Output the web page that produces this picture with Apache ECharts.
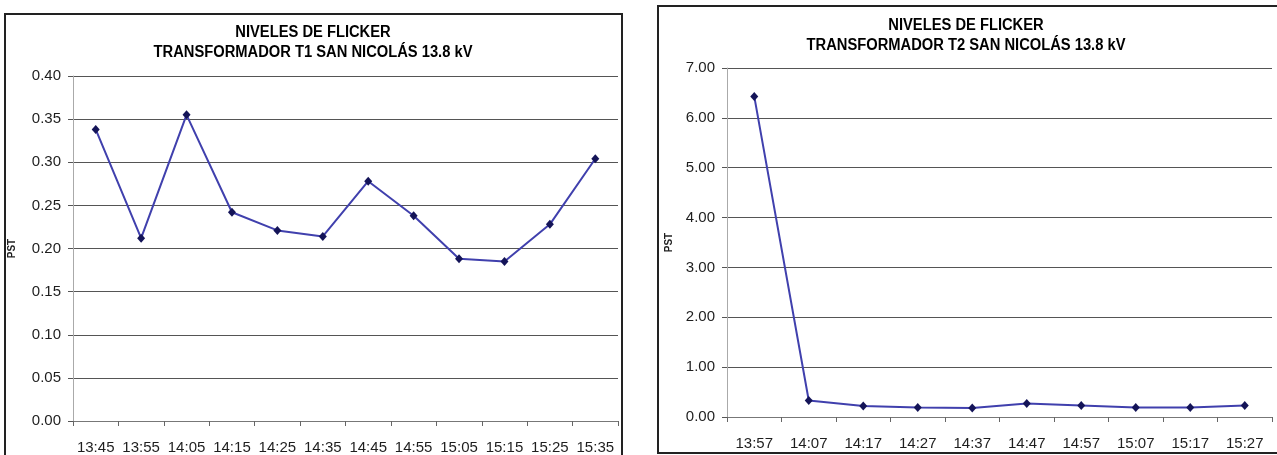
<!DOCTYPE html>
<html>
<head>
<meta charset="utf-8">
<script src="https://cdn.jsdelivr.net/npm/echarts@6/dist/echarts.min.js"></script>
<style>
  html, body { margin: 0; padding: 0; background: #fff; }
  #chart { width: 1277px; height: 455px; }
</style>
</head>
<body>
<div id="chart"></div>
<script>
// Flicker (Pst) readings, San Nicolás substation, 13.8 kV side
const timesT1 = ['13:45', '13:55', '14:05', '14:15', '14:25', '14:35', '14:45', '14:55', '15:05', '15:15', '15:25', '15:35'];
const pstT1 = [0.338, 0.212, 0.355, 0.242, 0.221, 0.214, 0.278, 0.238, 0.188, 0.185, 0.228, 0.304];

const timesT2 = ['13:57', '14:07', '14:17', '14:27', '14:37', '14:47', '14:57', '15:07', '15:17', '15:27'];
const pstT2 = [6.43, 0.33, 0.22, 0.19, 0.18, 0.27, 0.23, 0.19, 0.19, 0.23];

const titleT1 = ['NIVELES DE FLICKER', 'TRANSFORMADOR T1 SAN NICOLÁS 13.8 kV'];
const titleT2 = ['NIVELES DE FLICKER', 'TRANSFORMADOR T2 SAN NICOLÁS 13.8 kV'];
const axisName = 'PST';

const FONT = '"Liberation Sans Narrow", "Arial Narrow", "Liberation Sans", sans-serif';
const INK = '#1e1e1e';
const GRID_LINE = '#555';
const LINE_COLOR = '#4040ad';
const MARK_COLOR = '#141458';

function xAxisFor(idx, cats) {
  return {
    type: 'category', gridIndex: idx, data: cats, boundaryGap: true,
    axisLine: { show: true, lineStyle: { color: '#777', width: 1 } },
    axisTick: { show: true, length: 5, inside: false, lineStyle: { color: '#666' } },
    axisLabel: { color: INK, fontFamily: FONT, fontSize: 15, margin: 19, interval: 0 },
    splitLine: { show: false }
  };
}

function yAxisFor(idx, max, step, gap) {
  return {
    type: 'value', gridIndex: idx, min: 0, max: max, interval: step,
    name: axisName, nameLocation: 'middle', nameRotate: 90, nameGap: gap,
    nameTextStyle: { color: INK, fontFamily: FONT, fontSize: 10, fontWeight: 'bold' },
    axisLine: { show: true, lineStyle: { color: '#aaa', width: 1 } },
    axisTick: { show: true, length: 5, lineStyle: { color: GRID_LINE } },
    axisLabel: { color: INK, fontFamily: FONT, fontSize: 15, margin: 12,
                 formatter: v => v.toFixed(2) },
    splitLine: { show: true, lineStyle: { color: GRID_LINE, width: 1.2 } }
  };
}

function seriesFor(idx, values) {
  return {
    type: 'line', xAxisIndex: idx, yAxisIndex: idx, data: values,
    symbol: 'diamond', symbolSize: [8, 9], showSymbol: true,
    lineStyle: { color: LINE_COLOR, width: 2 },
    itemStyle: { color: MARK_COLOR },
    emphasis: { disabled: true }
  };
}

function titleText(cx, y, lines) {
  return {
    type: 'text', x: cx, y: y, z: 10, scaleX: 0.92,
    style: {
      text: lines.join('\n'), align: 'center', verticalAlign: 'top',
      font: 'bold 16px ' + FONT, fill: '#000', lineHeight: 20
    }
  };
}

const chart = echarts.init(document.getElementById('chart'), null, { renderer: 'canvas' });
chart.setOption({
  animation: false,
  backgroundColor: '#fff',
  grid: [
    { left: 73, top: 76, width: 545, height: 346, containLabel: false },
    { left: 727, top: 68, width: 545, height: 349, containLabel: false }
  ],
  xAxis: [xAxisFor(0, timesT1), xAxisFor(1, timesT2)],
  yAxis: [yAxisFor(0, 0.4, 0.05, 56), yAxisFor(1, 7, 1, 53)],
  series: [seriesFor(0, pstT1), seriesFor(1, pstT2)],
  graphic: [
    { type: 'rect', shape: { x: 5, y: 14, width: 617, height: 470 },
      style: { fill: 'none', stroke: '#222', lineWidth: 2 }, z: 5 },
    { type: 'rect', shape: { x: 658, y: 6, width: 630, height: 447 },
      style: { fill: 'none', stroke: '#222', lineWidth: 2 }, z: 5 },
    titleText(313, 23, titleT1),
    titleText(966, 16, titleT2)
  ]
});
</script>
</body>
</html>
